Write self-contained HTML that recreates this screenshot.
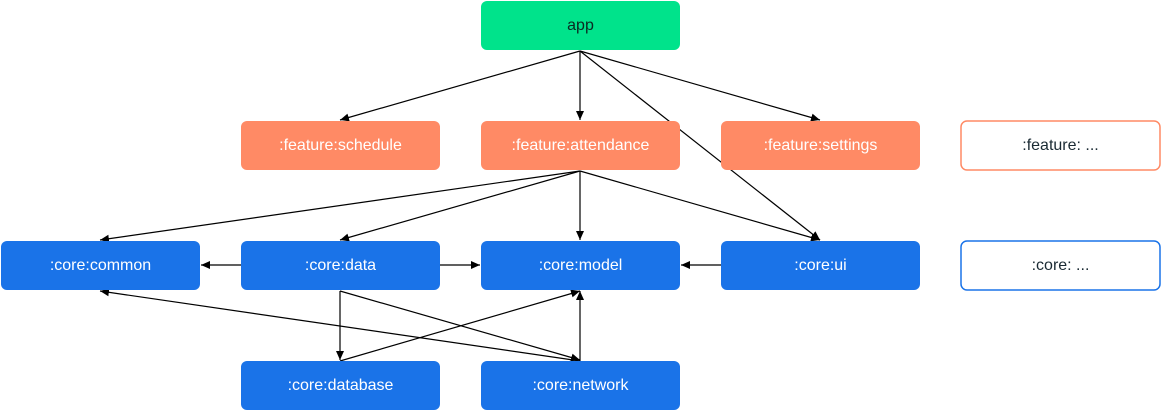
<!DOCTYPE html>
<html><head><meta charset="utf-8"><style>
html,body{margin:0;padding:0;background:#fff;width:1162px;height:412px;overflow:hidden}
svg text{font-family:"Liberation Sans",Arial,sans-serif;font-size:16px;text-anchor:middle;dominant-baseline:central}
</style></head><body>
<svg width="1162" height="412" viewBox="0 0 1162 412" xmlns="http://www.w3.org/2000/svg">
<defs><marker id="a" markerWidth="10" markerHeight="10" refX="9" refY="5" orient="auto" markerUnits="userSpaceOnUse"><path d="M0,1 L9,5 L0,9 Z" fill="#000"/></marker></defs>
<g stroke="#000" stroke-width="1.2" fill="none" marker-end="url(#a)">
<line x1="580" y1="51" x2="340" y2="120"/>
<line x1="580" y1="51" x2="580" y2="120"/>
<line x1="580" y1="51" x2="820" y2="120"/>
<line x1="580" y1="51" x2="820" y2="240"/>
<line x1="580" y1="171" x2="100" y2="240"/>
<line x1="580" y1="171" x2="340" y2="240"/>
<line x1="580" y1="171" x2="580" y2="240"/>
<line x1="580" y1="171" x2="820" y2="240"/>
<line x1="241" y1="265" x2="201" y2="265"/>
<line x1="440" y1="265" x2="480" y2="265"/>
<line x1="721" y1="265" x2="681" y2="265"/>
<line x1="340" y1="291" x2="340" y2="360"/>
<line x1="340" y1="291" x2="580" y2="360"/>
<line x1="340" y1="361" x2="580" y2="291"/>
<line x1="580" y1="361" x2="580" y2="291"/>
<line x1="580" y1="361" x2="100" y2="291"/>
</g>
<g>
<rect x="481" y="1" width="199" height="49" rx="6" fill="#00E38B"/>
<text x="580.5" y="25.5" fill="#0b2a22">app</text>
<rect x="241" y="121" width="199" height="49" rx="6" fill="#FF8A65"/>
<text x="340.5" y="145.5" fill="#fff">:feature:schedule</text>
<rect x="481" y="121" width="199" height="49" rx="6" fill="#FF8A65"/>
<text x="580.5" y="145.5" fill="#fff">:feature:attendance</text>
<rect x="721" y="121" width="199" height="49" rx="6" fill="#FF8A65"/>
<text x="820.5" y="145.5" fill="#fff">:feature:settings</text>
<rect x="961" y="121" width="199" height="49" rx="6" fill="#fff" stroke="#FF8A65" stroke-width="1.5"/>
<text x="1060.5" y="145.5" fill="#1a2a33">:feature: ...</text>
<rect x="1" y="241" width="199" height="49" rx="6" fill="#1A73E8"/>
<text x="100.5" y="265.5" fill="#fff">:core:common</text>
<rect x="241" y="241" width="199" height="49" rx="6" fill="#1A73E8"/>
<text x="340.5" y="265.5" fill="#fff">:core:data</text>
<rect x="481" y="241" width="199" height="49" rx="6" fill="#1A73E8"/>
<text x="580.5" y="265.5" fill="#fff">:core:model</text>
<rect x="721" y="241" width="199" height="49" rx="6" fill="#1A73E8"/>
<text x="820.5" y="265.5" fill="#fff">:core:ui</text>
<rect x="961" y="241" width="199" height="49" rx="6" fill="#fff" stroke="#1A73E8" stroke-width="1.5"/>
<text x="1060.5" y="265.5" fill="#1a2a33">:core: ...</text>
<rect x="241" y="361" width="199" height="49" rx="6" fill="#1A73E8"/>
<text x="340.5" y="385.5" fill="#fff">:core:database</text>
<rect x="481" y="361" width="199" height="49" rx="6" fill="#1A73E8"/>
<text x="580.5" y="385.5" fill="#fff">:core:network</text>
</g>
</svg>
</body></html>
